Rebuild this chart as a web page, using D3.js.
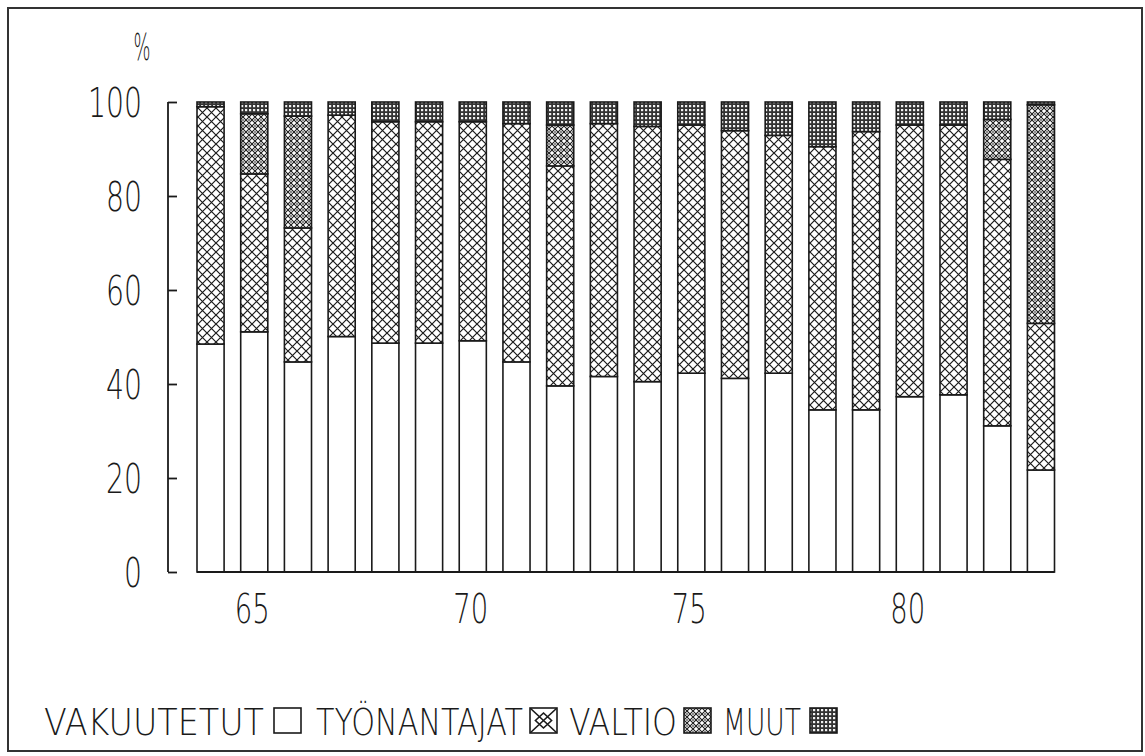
<!DOCTYPE html>
<html><head><meta charset="utf-8">
<script src="https://cdn.jsdelivr.net/npm/d3@7/dist/d3.min.js"></script>
<style>body{margin:0;background:#fff}svg{display:block}</style>
</head><body>
<svg id="chart" width="1145" height="756"></svg>
<script>
// ---- data ----
const years = [1964,1965,1966,1967,1968,1969,1970,1971,1972,1973,1974,1975,1976,1977,1978,1979,1980,1981,1982,1983];
const vakuutetut  = [48.5,51.1,44.7,50.1,48.7,48.7,49.2,44.7,39.6,41.6,40.5,42.3,41.2,42.3,34.5,34.5,37.3,37.7,31.1,21.7];
const tyonantajat = [50.5,33.6,28.5,47.1,47.1,47.1,46.6,50.7,46.8,53.8,54.3,52.8,52.7,50.6,56.0,59.2,57.8,57.4,56.7,31.2];
const valtio      = [0,12.8,23.8,0,0,0,0,0,8.7,0,0,0,0,0,0,0,0,0,8.5,46.5];
const muut        = [1.0,2.5,3.0,2.8,4.2,4.2,4.2,4.6,4.9,4.6,5.2,4.9,6.1,7.1,9.5,6.3,4.9,4.9,3.7,0.6];
const seriesKeys  = ["VAKUUTETUT","TYÖNANTAJAT","VALTIO","MUUT"];
const yTicks = [0,20,40,60,80,100];
const xTickYears  = [1965,1970,1975,1980];
const xTickLabels = ["65","70","75","80"];

const rows = years.map((y,i)=>({year:y, VAKUUTETUT:vakuutetut[i], "TYÖNANTAJAT":tyonantajat[i], VALTIO:valtio[i], MUUT:muut[i]}));

const svg = d3.select("#chart");
const ink = "#1a1a1a";
const FONT = "DejaVu Sans";

// ---- patterns ----
const defs = svg.append("defs");
function crossPattern(id, size, sw, dot){
  const p = defs.append("pattern").attr("id",id).attr("patternUnits","userSpaceOnUse")
    .attr("width",size).attr("height",size);
  p.append("rect").attr("width",size).attr("height",size).attr("fill","#fff");
  p.append("path").attr("d",`M0,0L${size},${size}M0,${size}L${size},0`)
    .attr("stroke",ink).attr("stroke-width",sw).attr("fill","none");
  if(dot){
    p.append("circle").attr("cx",size/2).attr("cy",0).attr("r",dot).attr("fill","#555");
    p.append("circle").attr("cx",size/2).attr("cy",size).attr("r",dot).attr("fill","#555");
  }
  return p;
}
crossPattern("p-tyo", 9, 1.2, 0);
crossPattern("p-valtio", 6, 1.1, 0.9);
(function(){
  const p = defs.append("pattern").attr("id","p-muut").attr("patternUnits","userSpaceOnUse")
    .attr("width",4).attr("height",4);
  p.append("rect").attr("width",4).attr("height",4).attr("fill","#333");
  p.append("rect").attr("x",1).attr("y",1).attr("width",2.2).attr("height",2.2).attr("fill","#f2f2f2");
})();
// legend pattern for TYÖNANTAJAT: a single X with inner diamond
(function(){
  const p = defs.append("pattern").attr("id","l-tyo").attr("patternUnits","objectBoundingBox")
    .attr("patternContentUnits","objectBoundingBox").attr("width",1).attr("height",1);
  p.append("rect").attr("width",1).attr("height",1).attr("fill","#fff");
  p.append("path").attr("d","M0,0L1,1M0,1L1,0M0.5,0.2L0.8,0.5L0.5,0.8L0.2,0.5Z").attr("stroke",ink)
    .attr("stroke-width",0.06).attr("fill","none");
})();
const fillFor = {"VAKUUTETUT":"#fff","TYÖNANTAJAT":"url(#p-tyo)","VALTIO":"url(#p-valtio)","MUUT":"url(#p-muut)"};
const legendFill = {"VAKUUTETUT":"#fff","TYÖNANTAJAT":"url(#l-tyo)","VALTIO":"url(#p-valtio)","MUUT":"url(#p-muut)"};

// ---- frame ----
svg.append("rect").attr("x",8).attr("y",8).attr("width",1134).attr("height",743)
  .attr("fill","none").attr("stroke","#333").attr("stroke-width",2);

// ---- scales ----
const x = d3.scaleBand().domain(years).range([197,1054.5]).paddingInner(0.38).paddingOuter(0);
const y = d3.scaleLinear().domain([0,100]).range([572,102]);

// ---- stacked bars ----
const stack = d3.stack().keys(seriesKeys)(rows);
const g = svg.append("g");
stack.forEach(s=>{
  g.append("g").selectAll("rect").data(s.filter(d=>d[1]-d[0]>0)).join("rect")
    .attr("x",d=>x(d.data.year)).attr("width",x.bandwidth())
    .attr("y",d=>y(d[1])).attr("height",d=>y(d[0])-y(d[1]))
    .attr("fill",fillFor[s.key]).attr("stroke",ink).attr("stroke-width",1.6);
});

// ---- axes ----
const yAxisX = 168;
const yAxis = d3.axisRight(y).tickValues(yTicks).tickSize(9).tickFormat("");
const ya = svg.append("g").attr("transform",`translate(${yAxisX},0)`).call(yAxis);
ya.select(".domain").remove();
ya.selectAll("line").attr("stroke",ink).attr("stroke-width",1.8);
svg.append("line").attr("x1",yAxisX).attr("x2",yAxisX).attr("y1",y(100)).attr("y2",y(0))
  .attr("stroke",ink).attr("stroke-width",1.8);

svg.append("line").attr("x1",x(years[0])).attr("x2",x(years[years.length-1])+x.bandwidth())
  .attr("y1",y(0)).attr("y2",y(0)).attr("stroke",ink).attr("stroke-width",1.8);

// thin, narrow plotter-like text fitted to a given width
function fitText(parent, txt, tx, ty, size, anchor, width){
  return parent.append("text").text(txt).attr("x",tx).attr("y",ty)
    .attr("font-family",FONT).attr("font-weight",200).attr("font-size",size)
    .attr("text-anchor",anchor).attr("fill",ink)
    .attr("textLength",width).attr("lengthAdjust","spacingAndGlyphs");
}
yTicks.forEach(t=>fitText(svg, String(t), 142, y(t)+15, 41, "end", 18*String(t).length));
fitText(svg, "%", 142, 60, 37, "middle", 17);
xTickYears.forEach((yr,i)=>fitText(svg, xTickLabels[i], x(yr)+x.bandwidth()/2-2, 623, 40, "middle", 35));

// ---- legend ----
const legendItems = [
  {key:"VAKUUTETUT", tx:44, tw:220, bx:274},
  {key:"TYÖNANTAJAT", tx:316, tw:207, bx:530},
  {key:"VALTIO", tx:569, tw:108, bx:684},
  {key:"MUUT", tx:723, tw:78, bx:810}
];
const lg = svg.append("g");
legendItems.forEach(it=>{
  fitText(lg, it.key, it.tx, 735, 37, "start", it.tw);
  lg.append("rect").attr("x",it.bx).attr("y",708).attr("width",27).attr("height",25)
    .attr("fill",legendFill[it.key]).attr("stroke",ink).attr("stroke-width",1.6);
});
</script>
</body></html>
